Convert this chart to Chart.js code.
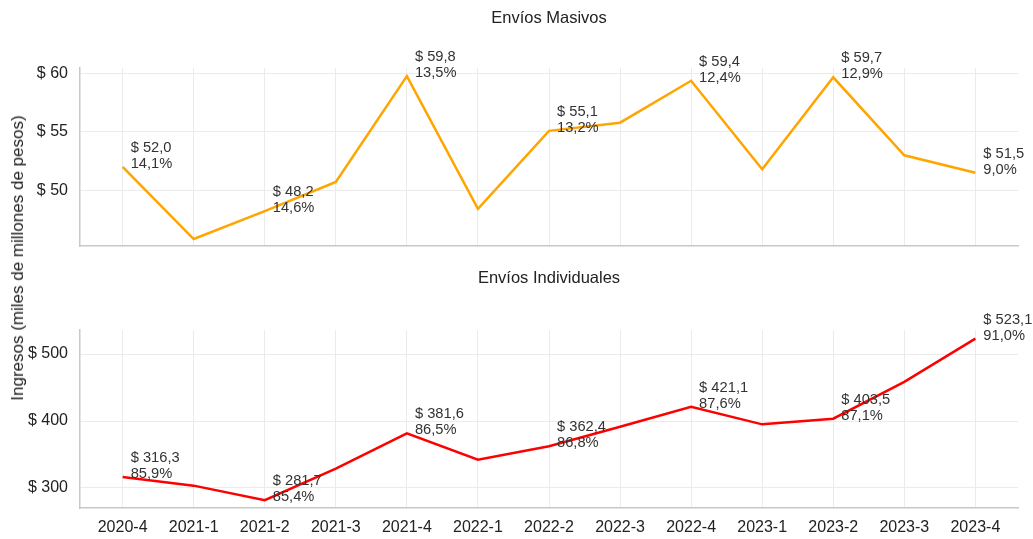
<!DOCTYPE html>
<html>
<head>
<meta charset="utf-8">
<script src="https://cdn.jsdelivr.net/npm/chart.js@4"></script>
<style>
  body{margin:0;background:#fff;font-family:"Liberation Sans",Arial,sans-serif;}
  #wrap{position:relative;width:1033px;height:539px;}
  canvas{position:absolute;left:0;}
  #ylab{position:absolute;left:18px;top:258px;transform:translate(-50%,-50%) rotate(-90deg);
    white-space:nowrap;font-size:17px;color:#222;}
</style>
</head>
<body>
<div id="wrap">
  <canvas id="top" width="1033" height="260" style="top:0"></canvas>
  <canvas id="bottom" width="1033" height="279" style="top:260px"></canvas>
  <div id="ylab">Ingresos (miles de millones de pesos)</div>
</div>
<script>
const periods = ["2020-4","2021-1","2021-2","2021-3","2021-4","2022-1","2022-2","2022-3","2022-4","2023-1","2023-2","2023-3","2023-4"];

// ingresos (miles de millones de pesos)
const masivos = [52.0,45.8,48.2,50.7,59.8,48.4,55.1,55.8,59.4,51.8,59.7,53.0,51.5];
const individuales = [316.3,303.4,281.7,329.0,381.6,342.2,362.4,391.5,421.1,395.0,403.5,458.6,523.1];

// participación (%), solo en los puntos con etiqueta
const masivosPct = [14.1,null,14.6,null,13.5,null,13.2,null,12.4,null,12.9,null,9.0];
const individualesPct = [85.9,null,85.4,null,86.5,null,86.8,null,87.6,null,87.1,null,91.0];

const masivosTicks = [50,55,60];
const individualesTicks = [300,400,500];

const FONT = '"Liberation Sans", Arial, sans-serif';
const GRID = "#ebebeb";
const AXIS = "#c8c8c8";

function fmt(v){ return v.toFixed(1).replace(".", ","); }

const labelsPlugin = {
  id:"pointLabels",
  afterDatasetsDraw(chart){
    const ctx = chart.ctx;
    const pct = chart.options.plugins.pointLabels.pct;
    const meta = chart.getDatasetMeta(0);
    const vals = chart.data.datasets[0].data;
    ctx.save();
    ctx.font = "14.7px " + FONT;
    ctx.fillStyle = "#333";
    ctx.textAlign = "left";
    ctx.textBaseline = "alphabetic";
    meta.data.forEach((pt,i)=>{
      if(pct[i]==null) return;
      ctx.fillText("$ " + fmt(vals[i].y), pt.x + 8, pt.y - 15);
      ctx.fillText(fmt(pct[i]) + "%", pt.x + 8, pt.y + 1);
    });
    ctx.restore();
  }
};

function makeChart(id, title, values, pct, color, yMin, yMax, yTicks, showX, xHeight, titleGap){
  return new Chart(document.getElementById(id),{
    type:"line",
    data:{
      datasets:[{
        data: values.map((v,i)=>({x:i,y:v})),
        borderColor: color,
        borderWidth: 2.5,
        pointRadius: 0,
        tension: 0,
        fill: false
      }]
    },
    options:{
      responsive:false,
      animation:false,
      layout:{padding:{left:0,right:15,top:0,bottom:0}},
      plugins:{
        legend:{display:false},
        tooltip:{enabled:false},
        title:{
          display:true, text:title, fullSize:false, color:"#222",
          font:{family:FONT,size:16.5,weight:"normal"},
          padding:{top:9,bottom:titleGap}
        },
        pointLabels:{pct:pct}
      },
      scales:{
        x:{
          type:"linear", min:-0.6, max:12.6,
          afterBuildTicks(s){ s.ticks = periods.map((p,i)=>({value:i})); },
          afterFit(s){ s.height = xHeight; s.paddingLeft = 0; s.paddingRight = 0; },
          grid:{color:GRID, drawTicks:false},
          border:{color:AXIS, width:1.5},
          ticks:{
            display:showX, padding:10, color:"#222", maxRotation:0, autoSkip:false,
            font:{family:FONT,size:16},
            callback:(v)=>periods[v]
          }
        },
        y:{
          min:yMin, max:yMax,
          afterBuildTicks(s){ s.ticks = yTicks.map(v=>({value:v})); },
          afterFit(s){ s.width = 80; s.paddingTop = 0; s.paddingBottom = 0; },
          grid:{color:GRID, drawTicks:false},
          border:{color:AXIS, width:1.5},
          ticks:{
            padding:12, color:"#222",
            font:{family:FONT,size:16},
            callback:(v)=>"$ " + v
          }
        }
      }
    },
    plugins:[labelsPlugin]
  });
}

makeChart("top","Envíos Masivos",masivos,masivosPct,"#FFA500",45.2,60.5,masivosTicks,false,14,39.2);
makeChart("bottom","Envíos Individuales",individuales,individualesPct,"#FF0000",270,536,individualesTicks,true,31,41.2);
</script>
</body>
</html>
